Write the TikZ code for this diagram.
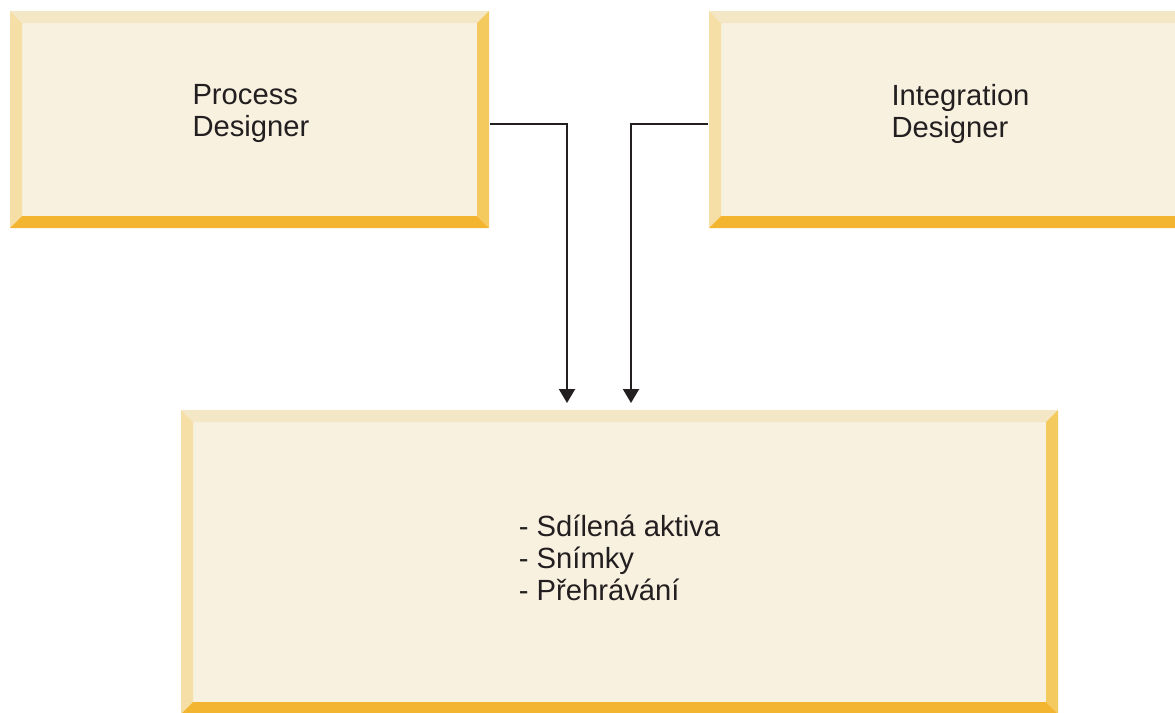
\documentclass[tikz,border=0pt]{standalone}
\usepackage{fontspec}
\setmainfont{Liberation Sans}
\usetikzlibrary{arrows.meta,calc}
\hbadness=10000
\hfuzz=100pt
\definecolor{face}{HTML}{F8F1E0}
\definecolor{bevtop}{HTML}{F4E7C5}
\definecolor{bevleft}{HTML}{F6DFA6}
\definecolor{bevright}{HTML}{F4C95E}
\definecolor{bevbottom}{HTML}{F3B52F}
\definecolor{ink}{HTML}{231F20}
\tikzset{
flow/.style={x=0.5pt,y=-0.5pt,line width=1pt,draw=ink,
>={Triangle[width=8pt,length=7pt]},font=\fontsize{14.6}{16}\selectfont},
bevel/.style={rectangle,inner sep=0pt,fill=face,text=ink,align=left,
path picture={
\coordinate (nw) at (path picture bounding box.north west);
\coordinate (ne) at (path picture bounding box.north east);
\coordinate (sw) at (path picture bounding box.south west);
\coordinate (se) at (path picture bounding box.south east);
\fill[bevtop] (nw) -- (ne) -- ($(ne)+(-6pt,-6pt)$) -- ($(nw)+(6pt,-6pt)$) -- cycle;
\fill[bevleft] (nw) -- ($(nw)+(6pt,-6pt)$) -- ($(sw)+(6pt,6pt)$) -- (sw) -- cycle;
\fill[bevright] (ne) -- ($(ne)+(-6pt,-6pt)$) -- ($(se)+(-6pt,6pt)$) -- (se) -- cycle;
\fill[bevbottom] (sw) -- ($(sw)+(6pt,6pt)$) -- ($(se)+(-6pt,6pt)$) -- (se) -- cycle;
}},
tool/.style={bevel,minimum width=239.5pt,minimum height=108.5pt,text depth=25pt,
text width=57pt},
}
\begin{document}
\begin{tikzpicture}[flow]
\useasboundingbox (0,0) rectangle (1175,713);
\node[tool] (process) at (249.5,119.5) {Process\\Designer};
\node[tool] (integration) at (948.5,119.5) {Integration\\Designer};
\node[bevel,minimum width=438.5pt,minimum height=152pt,text depth=4pt] (assets) at (619.5,562) {- Sdílená aktiva\\- Snímky\\- Přehrávání};

\coordinate (in1) at (567,403);
\coordinate (in2) at (631,403);
\draw[->] ([yshift=-2pt]process.east) -| (in1);
\draw[->] ([yshift=-2pt]integration.west) -| (in2);
\end{tikzpicture}
\end{document}
